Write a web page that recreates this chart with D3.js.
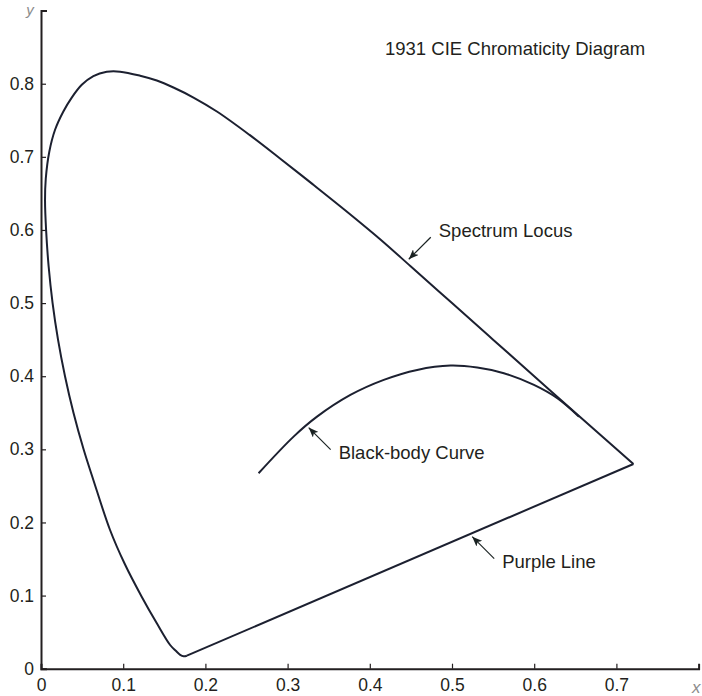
<!DOCTYPE html>
<html>
<head>
<meta charset="utf-8">
<script src="https://cdn.jsdelivr.net/npm/d3@7"></script>
<style>
  html, body { margin: 0; padding: 0; background: #fff; }
  svg { display: block; font-family: "Liberation Sans", Arial, Helvetica, sans-serif; }
</style>
</head>
<body>
<svg id="chart" width="702" height="696"></svg>
<script>
// ---- data ----
// Spectrum locus chromaticity coordinates, from the violet end, up the left side, over the top, to the red end
const locusX = [0.1775, 0.1735, 0.1693, 0.1640, 0.1571, 0.1409, 0.1225, 0.1015, 0.0840, 0.0637,
                0.0518, 0.0395, 0.0292, 0.0207, 0.0141, 0.0093, 0.0062, 0.0049, 0.0058,
                0.0101, 0.0171, 0.0272, 0.0374, 0.0496, 0.0637, 0.0800, 0.0962, 0.1206, 0.1409,
                0.1611, 0.1855, 0.2140, 0.2537, 0.2900, 0.3300, 0.3700, 0.4129, 0.4500, 0.5000,
                0.5500, 0.6000, 0.6500, 0.7207];
const locusY = [0.0178, 0.0170, 0.0190, 0.0245, 0.0324, 0.0621, 0.0985, 0.1442, 0.1897, 0.2581,
                0.3000, 0.3500, 0.4000, 0.4500, 0.5000, 0.5500, 0.6000, 0.6400, 0.6700,
                0.7070, 0.7370, 0.7620, 0.7810, 0.7985, 0.8105, 0.8163, 0.8165, 0.8110, 0.8044,
                0.7948, 0.7811, 0.7620, 0.7300, 0.6985, 0.6630, 0.6270, 0.5870, 0.5500, 0.5000,
                0.4500, 0.4000, 0.3500, 0.2800];
// Black-body (Planckian) curve
const bbX = [0.2647, 0.3073, 0.3358, 0.3764, 0.4170, 0.4576, 0.4982, 0.5307, 0.5631, 0.5997, 0.6281, 0.6545];
const bbY = [0.2673, 0.3174, 0.3447, 0.3744, 0.3950, 0.4086, 0.4145, 0.4118, 0.4041, 0.3881, 0.3699, 0.3447];
// Axis ticks
const xTicks = [0, 0.1, 0.2, 0.3, 0.4, 0.5, 0.6, 0.7];
const yTicks = [0, 0.1, 0.2, 0.3, 0.4, 0.5, 0.6, 0.7, 0.8];
const xTickLabels = ["0", "0.1", "0.2", "0.3", "0.4", "0.5", "0.6", "0.7"];
const yTickLabels = ["0", "0.1", "0.2", "0.3", "0.4", "0.5", "0.6", "0.7", "0.8"];
// Annotations: label and the point (data coords) the arrow points at
const annLabels = ["Spectrum Locus", "Black-body Curve", "Purple Line"];
const annX = [0.4474, 0.3256, 0.5246];
const annY = [0.5600, 0.3297, 0.1806];
const annDir = ["up", "down", "down"];
const title = "1931 CIE Chromaticity Diagram";

// ---- drawing ----
const svg = d3.select("#chart");
const ink = "#231f20";
const curveColor = "#1c2030";

const x = d3.scaleLinear().domain([0, 0.8]).range([41, 698.6]);
const y = d3.scaleLinear().domain([0, 0.9]).range([668.7, 10.6]);

// axes
const xAxis = d3.axisBottom(x).tickValues(xTicks)
  .tickFormat((d, i) => xTickLabels[i]).tickSizeInner(-5).tickSizeOuter(-5).tickPadding(10);
const yAxis = d3.axisLeft(y).tickValues(yTicks)
  .tickFormat((d, i) => yTickLabels[i]).tickSizeInner(-5).tickSizeOuter(-6).tickPadding(7);

const gx = svg.append("g").attr("transform", `translate(0,${y(0)})`).call(xAxis);
const gy = svg.append("g").attr("transform", `translate(${x(0)},0)`).call(yAxis);
[gx, gy].forEach(g => {
  g.select(".domain").attr("stroke", ink).attr("stroke-width", 2);
  g.selectAll(".tick line").attr("stroke", ink).attr("stroke-width", 1.2);
  g.selectAll(".tick text").attr("fill", ink).style("font-size", "17.5px")
    .style("font-family", '"Liberation Sans", Arial, sans-serif');
});

// axis names
svg.append("text").attr("x", 30).attr("y", 15).attr("text-anchor", "middle")
  .attr("fill", "#8c8c8c").style("font-style", "italic").style("font-size", "15px").text("y");
svg.append("text").attr("x", 692).attr("y", 693)
  .attr("fill", "#8c8c8c").style("font-style", "italic").style("font-size", "17px").text("x");

// spectrum locus
const locus = locusX.map((v, i) => [v, locusY[i]]);
const lineSmooth = d3.line().x(d => x(d[0])).y(d => y(d[1])).curve(d3.curveCatmullRom.alpha(0.5));
const lineStraight = d3.line().x(d => x(d[0])).y(d => y(d[1]));

svg.append("path").attr("d", lineSmooth(locus))
  .attr("fill", "none").attr("stroke", curveColor).attr("stroke-width", 2).attr("stroke-linejoin", "miter");
// purple line: red end back to violet end
svg.append("path").attr("d", lineStraight([locus[locus.length - 1], locus[0]]))
  .attr("fill", "none").attr("stroke", curveColor).attr("stroke-width", 2);

// black-body curve
const bb = bbX.map((v, i) => [v, bbY[i]]);
svg.append("path").attr("d", lineSmooth(bb))
  .attr("fill", "none").attr("stroke", curveColor).attr("stroke-width", 2);

// title
svg.append("text").attr("x", 385).attr("y", 55).attr("fill", ink)
  .style("font-size", "18.5px").text(title);

// annotations with arrows
svg.append("defs").append("marker")
  .attr("id", "arrow").attr("viewBox", "0 0 10 8").attr("refX", 10).attr("refY", 4)
  .attr("markerWidth", 10).attr("markerHeight", 8).attr("markerUnits", "userSpaceOnUse")
  .attr("orient", "auto")
  .append("path").attr("d", "M0,0 L10,4 L0,8 L2.5,4 Z").attr("fill", "#1a2222");

annLabels.forEach((lab, i) => {
  const tx = x(annX[i]), ty = y(annY[i]);
  const up = annDir[i] === "up";
  const tailX = tx + 22, tailY = up ? ty - 22 : ty + 22;
  svg.append("line").attr("x1", tailX).attr("y1", tailY).attr("x2", tx).attr("y2", ty)
    .attr("stroke", "#1a2222").attr("stroke-width", 1.2).attr("marker-end", "url(#arrow)");
  svg.append("text").attr("x", tx + 30).attr("y", up ? ty - 22.6 : ty + 31.7)
    .attr("fill", ink).style("font-size", "18.5px").text(lab);
});
</script>
</body>
</html>
